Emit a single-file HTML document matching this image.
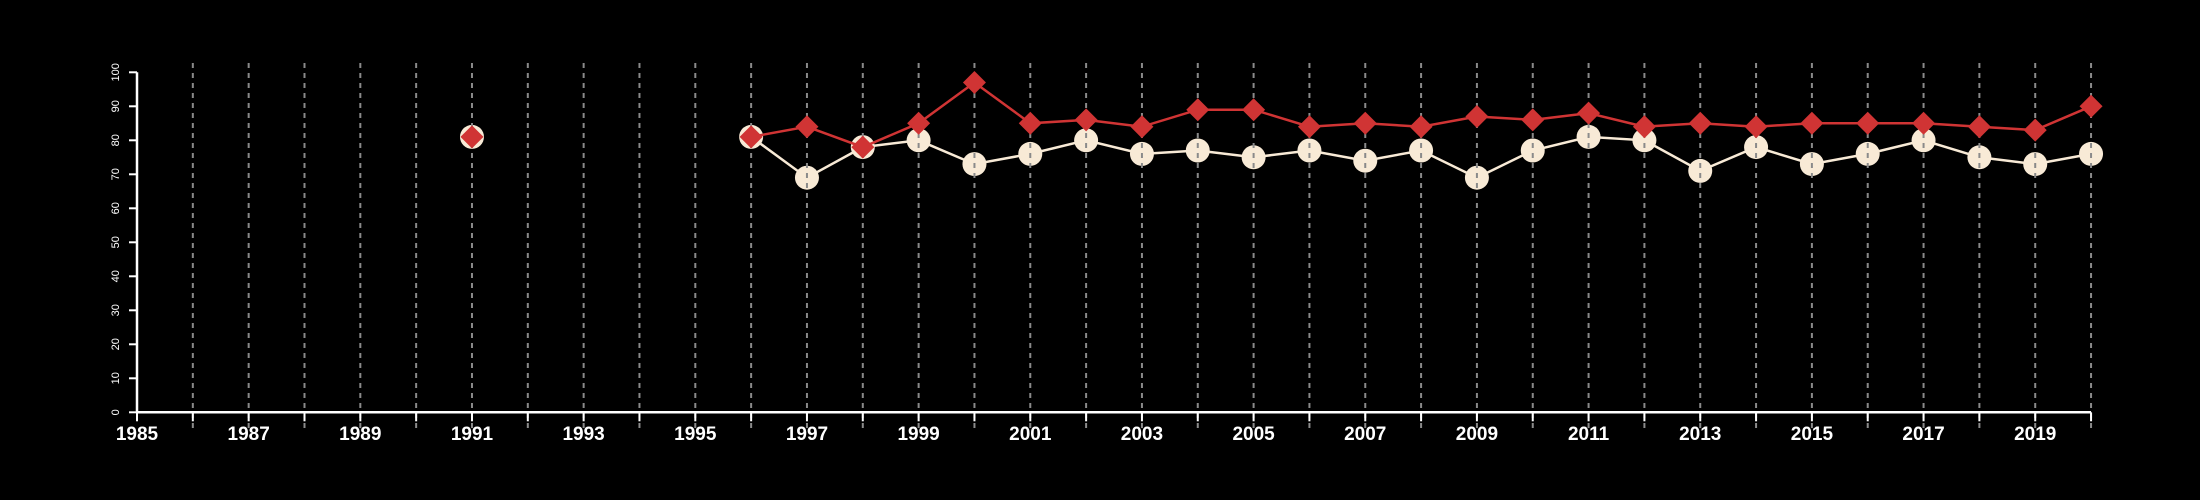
<!DOCTYPE html>
<html><head><meta charset="utf-8"><style>
html,body{margin:0;padding:0;background:#000;}
svg{display:block;}
text{font-family:"Liberation Sans",sans-serif;fill:#fff;}
</style></head><body>
<svg id="chart" width="2200" height="500" viewBox="0 0 2200 500" xmlns="http://www.w3.org/2000/svg">
<rect width="2200" height="500" fill="#000"/>
<g id="grid"></g>
<g id="axes"></g>
<g id="series"></g>
</svg>
<script>
const years = [1991,1996,1997,1998,1999,2000,2001,2002,2003,2004,2005,2006,2007,2008,2009,2010,2011,2012,2013,2014,2015,2016,2017,2018,2019,2020];
const redValues = [81,81,84,78,85,97,85,86,84,89,89,84,85,84,87,86,88,84,85,84,85,85,85,84,83,90];
const whiteValues = [81,81,69,78,80,73,76,80,76,77,75,77,74,77,69,77,81,80,71,78,73,76,80,75,73,76];
const xTickLabels = ['1985','1987','1989','1991','1993','1995','1997','1999','2001','2003','2005','2007','2009','2011','2013','2015','2017','2019'];
const yTickLabels = ['0','10','20','30','40','50','60','70','80','90','100'];

const NS='http://www.w3.org/2000/svg';
const x0=137, xPer=55.83, yBase=412.3, yPer=3.4;
function xs(yr){return x0+(yr-1985)*xPer;}
function ys(v){return yBase-v*yPer;}
function mk(tag,attrs,parent){const e=document.createElementNS(NS,tag);for(const k in attrs)e.setAttribute(k,attrs[k]);parent.appendChild(e);return e;}
const grid=document.getElementById('grid'), axes=document.getElementById('axes'), series=document.getElementById('series');

// axes
let ax=mk('line',{x1:xs(1985),x2:xs(2020),y1:yBase,y2:yBase,stroke:'#fff','stroke-width':2.5},axes);


let ay=mk('line',{x1:x0,x2:x0,y1:ys(0),y2:ys(100),stroke:'#fff','stroke-width':2.5},axes);


for(let yr=1985;yr<=2020;yr++){
  const t=mk('line',{x1:xs(yr),x2:xs(yr),y1:yBase,y2:yBase+9,stroke:'#fff','stroke-width':2},axes);
  
  
  if(yr>1985){
    const g=mk('line',{x1:xs(yr),x2:xs(yr),y1:63,y2:428,stroke:'#8a8a8a','stroke-width':2,'stroke-dasharray':'5,5'},grid);
    
    
  }
}
xTickLabels.forEach(l=>{
  const t=mk('text',{x:xs(+l),y:440,'text-anchor':'middle','font-size':19,'font-weight':'bold'},axes);
  t.textContent=l;
  
  
});
yTickLabels.forEach(l=>{
  const y=ys(+l);
  const t=mk('line',{x1:x0-8,x2:x0,y1:y,y2:y,stroke:'#fff','stroke-width':2},axes);
  
  
  const tx=mk('text',{x:0,y:0,'text-anchor':'middle','font-size':11,transform:`translate(119,${y}) rotate(-90)`},axes);
  tx.textContent=l;
  
  
});

function pathFor(vals){
  let d='',prev=null;
  years.forEach((yr,i)=>{
    const cmd=(prev!==null && yr-prev===1)?'L':'M';
    d+=cmd+xs(yr)+','+ys(vals[i])+' ';prev=yr;
  });
  return d;
}
// white line and circles (under grid? draw into separate layer before grid)
const svg=document.getElementById('chart');
const under=document.createElementNS(NS,'g');


svg.insertBefore(under,grid);
const wl=mk('path',{d:pathFor(whiteValues),fill:'none',stroke:'#f8ead6','stroke-width':2.5},under);


years.forEach((yr,i)=>{
  const c=mk('circle',{cx:xs(yr),cy:ys(whiteValues[i]),r:12,fill:'#f8ead6'},under);
  
  
});
const rl=mk('path',{d:pathFor(redValues),fill:'none',stroke:'#d03434','stroke-width':2.5},series);


years.forEach((yr,i)=>{
  const x=xs(yr),y=ys(redValues[i]),s=11.5;
  const p=mk('polygon',{points:`${x},${y-s} ${x+s},${y} ${x},${y+s} ${x-s},${y}`,fill:'#d03434'},series);
  
  
});
</script>
</body></html>
